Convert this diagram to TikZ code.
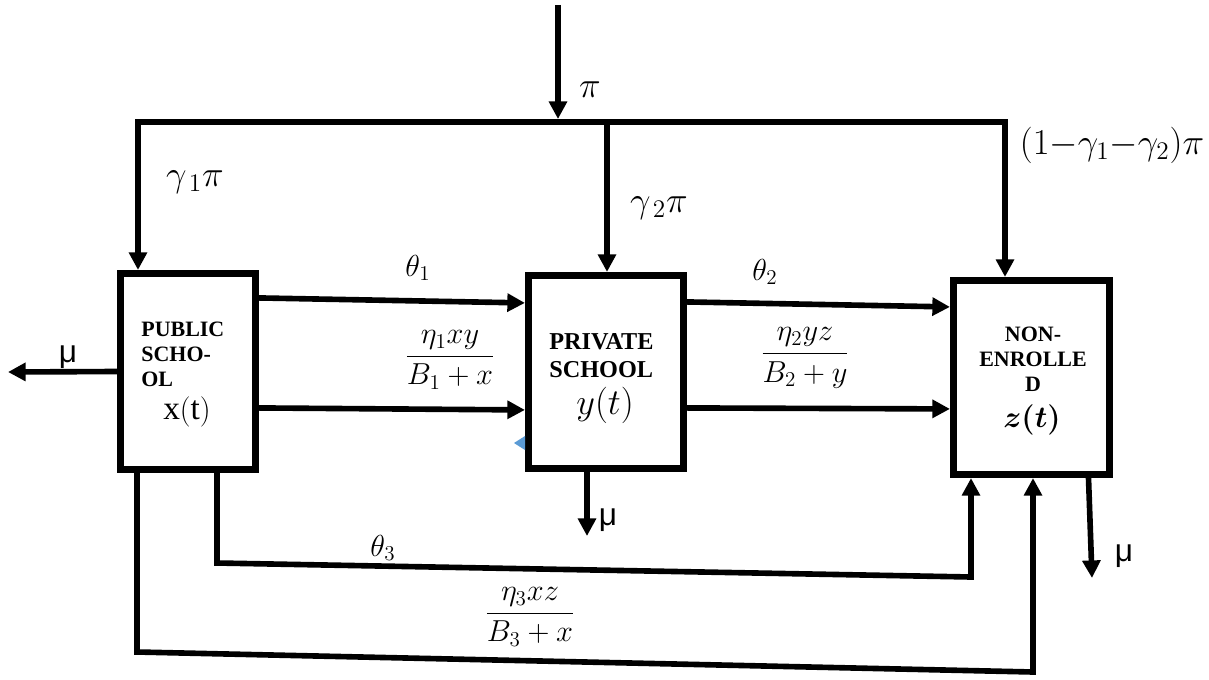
\documentclass[tikz,border=0pt]{standalone}
\usepackage{amsmath}
\usepackage{fontspec}
\setmainfont{Liberation Serif}
\newfontfamily\arialfont{Liberation Sans}
\usetikzlibrary{arrows.meta,calc}
\definecolor{artblue}{RGB}{91,155,213}

\tikzset{
  block/.style={draw,line width=3.8pt,inner sep=0pt},
  flow/.style={line width=3.2pt,->},
  boxtext/.style={font=\fontsize{12.5}{14}\selectfont\bfseries,inner sep=0pt},
  lbl/.style={inner sep=0pt,font=\fontsize{18}{20}\selectfont},
  mulbl/.style={inner sep=0pt,font=\arialfont\fontsize{18}{20}\selectfont},
}

\begin{document}
\begin{tikzpicture}[x=0.02cm,y=-0.02cm,>={Triangle[length=10pt,width=10pt]}]
  \useasboundingbox (0,0) rectangle (1209,679);
  % blocks
  \node[block,minimum width=2.71cm,minimum height=3.93cm] (pub) at (188,371.5) {};
  \node[block,minimum width=3.11cm,minimum height=3.87cm] (priv) at (606,372) {};
  \node[block,minimum width=3.13cm,minimum height=3.89cm] (non) at (1031.5,377.5) {};
  \node[boxtext,align=left,anchor=north west] (pubtxt) at (141,322) {PUBLIC\\SCHO-\\OL};
  \node[boxtext,align=left,anchor=north west,font=\fontsize{13.8}{16}\selectfont\bfseries] (privtxt) at (549,333) {PRIVATE\\SCHOOL};
  \node[boxtext,align=center,anchor=north] (nontxt) at (1033,327) {NON-\\ENROLLE\\D};
  \node[lbl,font=\fontsize{19}{21}\selectfont] (xt) at (187,412) {$\mathrm{x}(\mathrm{t})$};
  \node[lbl,font=\fontsize{20}{22}\selectfont] (yt) at (605,405) {$y(t)$};
  \node[lbl,font=\fontsize{18}{20}\selectfont] (zt) at (1032,420) {$\boldsymbol{z(t)}$};
  % recruitment pi
  \coordinate (src) at (558,5);
  \coordinate (jn) at (558,119);
  \coordinate (tl) at (138,122);
  \coordinate (tm) at (607,122);
  \coordinate (tr) at (1005,122);
  \draw[flow] (src) -- (jn);
  \draw[line width=3.2pt,<->] (pub.north -| tl) -- (tl) -- (tr) -- (non.north -| tr);
  \draw[flow] (tm) -- (priv.north -| tm);
  \node[lbl,font=\fontsize{21}{23}\selectfont] (pi) at (590,90) {$\pi$};
  \node[lbl,font=\fontsize{21}{23}\selectfont] (g1) at (195,182) {$\gamma_{\,1}\pi$};
  \node[lbl,font=\fontsize{21}{23}\selectfont] (g2) at (659,208) {$\gamma_{\,2}\pi$};
  \node[lbl,font=\fontsize{21}{23}\selectfont] (g3) at (1112,145) {$(1{-}\gamma_1{-}\gamma_2)\pi$};
  % transfers between blocks
  \draw[flow] ($(pub.north east)+(0,28)$) -- ($(priv.north west)+(0,31)$);
  \draw[flow] ($(pub.north east)+(0,138)$) -- ($(priv.north west)+(0,138)$);
  \draw[flow] ($(priv.north east)+(0,30)$) -- ($(non.north west)+(0,30)$);
  \draw[flow] ($(priv.north east)+(0,136)$) -- ($(non.north west)+(0,132)$);
  \node[lbl] (th1) at (418,268) {$\theta_1$};
  \node[lbl] (th2) at (765,272) {$\theta_2$};
  \node[lbl,font=\fontsize{17}{19}\selectfont] (f1) at (450,360) {$\dfrac{\eta_1xy}{B_1+x}$};
  \node[lbl,font=\fontsize{17}{19}\selectfont] (f2) at (805,358) {$\dfrac{\eta_2yz}{B_2+y}$};
  % bottom routes to non-enrolled
  \coordinate (c1) at (217,563);
  \coordinate (c2) at (971,577);
  \draw[flow] (pub.south -| c1) -- (c1) -- (c2) -- (non.south -| c2);
  \coordinate (d1) at (137,652);
  \coordinate (d2) at (1033,672);
  \draw[flow] (pub.south -| d1) -- (d1) -- (d2) -- (non.south -| d2);
  \node[lbl] (th3) at (383,548) {$\theta_3$};
  \node[lbl,font=\fontsize{17}{19}\selectfont] (f3) at (530,617) {$\dfrac{\eta_3xz}{B_3+x}$};
  % deaths
  \coordinate (muL) at (8,372);
  \coordinate (mu2) at (587,536);
  \coordinate (mu3) at (1092,578);
  \draw[flow] (pub.west) -- (muL);
  \draw[flow] (priv.south -| mu2) -- (mu2);
  \draw[flow] ($(non.south)+(57,0)$) -- (mu3);
  \node[mulbl] (m1) at (68,357) {μ};
  \node[mulbl] (m2) at (608,520) {μ};
  \node[mulbl] (m3) at (1124,556) {μ};
  % stray mark
  \fill[artblue] (514,443) -- (525,436) -- (525,450) -- cycle;
\end{tikzpicture}
\end{document}
